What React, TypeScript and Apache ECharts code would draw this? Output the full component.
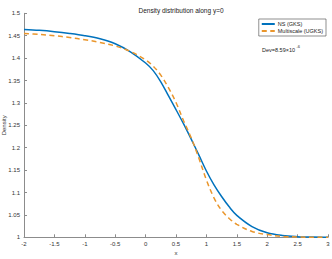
import React, { useEffect, useRef } from "react";
import * as echarts from "echarts";

const blueX = [-2, -1.75, -1.5, -1.25, -1, -0.75, -0.5, -0.25, 0, 0.125, 0.25, 0.375, 0.5, 0.625, 0.75, 0.875, 1, 1.125, 1.25, 1.375, 1.5, 1.75, 2, 2.25, 2.5, 2.75, 3];
const blueY = [1.464, 1.462, 1.459, 1.455, 1.45, 1.443, 1.432, 1.414, 1.389, 1.372, 1.347, 1.316, 1.285, 1.253, 1.219, 1.184, 1.148, 1.117, 1.091, 1.068, 1.049, 1.024, 1.01, 1.004, 1.0015, 1.0004, 1.0];

const orangeX = [-2, -1.75, -1.5, -1.25, -1, -0.75, -0.5, -0.25, 0, 0.125, 0.25, 0.375, 0.5, 0.625, 0.75, 0.875, 1, 1.125, 1.25, 1.375, 1.5, 1.75, 2, 2.25, 2.5, 2.75, 3];
const orangeY = [1.455, 1.453, 1.45, 1.446, 1.441, 1.435, 1.427, 1.415, 1.396, 1.382, 1.362, 1.334, 1.301, 1.26, 1.222, 1.177, 1.128, 1.088, 1.06, 1.042, 1.029, 1.013, 1.006, 1.002, 1.0007, 1.0002, 1.0];

const seriesNames = ["NS (GKS)", "Multiscale (UGKS)"];
const xTickLabels = ["-2", "-1.5", "-1", "-0.5", "0", "0.5", "1", "1.5", "2", "2.5", "3"];
const yTickLabels = ["1", "1.05", "1.1", "1.15", "1.2", "1.25", "1.3", "1.35", "1.4", "1.45", "1.5"];

const FONT = "Liberation Sans, Arial, sans-serif";

export default function App() {
  const ref = useRef<HTMLDivElement>(null);
  useEffect(() => {
    if (!ref.current) return;
    const chart = echarts.init(ref.current, undefined, { renderer: "svg" });
    const axisColor = "#8c8c8c";
    chart.setOption({
      animation: false,
      backgroundColor: "#ffffff",
      textStyle: { fontFamily: FONT },
      title: {
        text: "Density distribution along y=0",
        left: 176,
        textAlign: "center",
        top: 2,
        textStyle: { fontSize: 6.5, fontWeight: "normal", color: "#222", fontFamily: FONT },
      },
      legend: {
        orient: "vertical",
        right: 6,
        top: 19,
        borderColor: "#444",
        borderWidth: 0.6,
        padding: [2, 3, 2, 2],
        itemGap: 1,
        itemWidth: 13,
        itemHeight: 6,
        itemStyle: { opacity: 0 },
        textStyle: { fontSize: 5.5, color: "#222", fontFamily: FONT, padding: [0, 0, 0, -2] },
        data: seriesNames,
      },
      grid: { left: 24, right: 4, top: 13.3, bottom: 21.7, containLabel: false, outerBoundsMode: "none" },
      xAxis: {
        type: "value",
        min: -2,
        max: 3,
        interval: 0.5,
        name: "x",
        nameLocation: "middle",
        nameGap: 13,
        nameMoveOverlap: false,
        nameTextStyle: { fontSize: 6, color: "#333", fontFamily: FONT },
        axisLine: { show: true, onZero: false, lineStyle: { color: axisColor, width: 1 } },
        axisTick: { show: true, inside: true, length: 3, lineStyle: { color: axisColor } },
        axisLabel: {
          fontSize: 6,
          color: "#333",
          margin: 4,
          fontFamily: FONT,
          formatter: (v: number) => xTickLabels[Math.round((v + 2) / 0.5)] ?? "",
        },
        splitLine: { show: false },
      },
      yAxis: {
        type: "value",
        min: 1,
        max: 1.5,
        interval: 0.05,
        name: "Density",
        nameLocation: "middle",
        nameRotate: 90,
        nameGap: 17,
        nameMoveOverlap: false,
        nameTextStyle: { fontSize: 6, color: "#333", fontFamily: FONT },
        axisLine: { show: true, onZero: false, lineStyle: { color: axisColor, width: 1 } },
        axisTick: { show: true, inside: true, length: 3, lineStyle: { color: axisColor } },
        axisLabel: {
          fontSize: 6,
          color: "#333",
          margin: 4,
          fontFamily: FONT,
          formatter: (v: number) => yTickLabels[Math.round((v - 1) / 0.05)] ?? "",
        },
        splitLine: { show: false },
      },
      series: [
        {
          name: seriesNames[0],
          type: "line",
          smooth: 0.35,
          symbol: "none",
          data: blueX.map((x, i) => [x, blueY[i]]),
          lineStyle: { color: "#0072BD", width: 1.5 },
          itemStyle: { color: "#0072BD" },
          z: 2,
        },
        {
          name: seriesNames[1],
          type: "line",
          smooth: 0.35,
          symbol: "none",
          data: orangeX.map((x, i) => [x, orangeY[i]]),
          lineStyle: { color: "#EA962C", width: 1.5, type: [5, 3.5] },
          itemStyle: { color: "#EA962C" },
          z: 3,
        },
      ],
      graphic: [
        {
          type: "text",
          left: 262,
          top: 47,
          style: { text: "Dev=8.59×10", fontSize: 5.5, fill: "#222", fontFamily: FONT },
        },
        {
          type: "text",
          left: 296.5,
          top: 44.5,
          style: { text: "-6", fontSize: 4, fill: "#222", fontFamily: FONT },
        },
      ],
    });
    return () => chart.dispose();
  }, []);
  return (
    <div
      ref={ref}
      style={{ position: "fixed", left: 0, top: 0, width: 332, height: 259, background: "#fff" }}
    />
  );
}
